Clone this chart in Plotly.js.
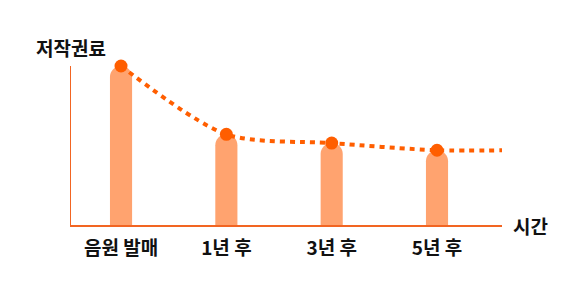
<!DOCTYPE html>
<html><head><meta charset="utf-8">
<script src="https://cdn.plot.ly/plotly-3.0.1.min.js"></script>
<style>html,body{margin:0;padding:0;background:#fff}#c{width:579px;height:296px}</style>
</head><body><div id="c"></div>
<script>
const categories = ['음원 발매', '1년 후', '3년 후', '5년 후'];
const royalties = [100, 57, 51.5, 47];
const tailValue = 47;
const yTitle = '저작권료';
const xTitle = '시간';

const idx = categories.map((c, i) => i);
const xMax = 3.617;
const font = 'Noto Sans CJK KR, Noto Sans, sans-serif';

const data = [
  {type: 'bar', x: idx, y: royalties, width: 0.21,
   marker: {color: '#FFA36F'}, hoverinfo: 'skip'},
  {type: 'scatter', mode: 'lines', x: idx.concat([xMax]), y: royalties.concat([tailValue]),
   line: {color: '#FF5E00', width: 4, dash: '5px,5px', shape: 'spline', smoothing: 0.8},
   hoverinfo: 'skip'},
  {type: 'scatter', mode: 'markers', x: idx, y: royalties,
   marker: {color: '#FF5E00', size: 13}, cliponaxis: false, hoverinfo: 'skip'}
];
const layout = {
  width: 579, height: 296,
  margin: {l: 71, r: 77, t: 66, b: 71},
  paper_bgcolor: '#fff', plot_bgcolor: '#fff',
  showlegend: false,
  barcornerradius: 11,
  xaxis: {range: [-0.475, xMax], tickvals: idx, ticktext: categories,
    showgrid: false, zeroline: false, showline: true, linecolor: '#F26522', linewidth: 1.5,
    ticks: '', ticklen: 0, ticklabelstandoff: 6,
    tickfont: {family: font, size: 19, color: '#111', weight: 'bold'},
    fixedrange: true},
  yaxis: {range: [0, 100], showgrid: false, zeroline: false, showline: true,
    linecolor: '#F26522', linewidth: 1.5, showticklabels: false, ticks: '', fixedrange: true},
  annotations: [
    {text: '<b>' + yTitle + '</b>', xref: 'paper', yref: 'paper', x: 0, y: 1.0, yshift: 19,
     xanchor: 'center', yanchor: 'middle', showarrow: false,
     font: {family: font, size: 19, color: '#111'}},
    {text: '<b>' + xTitle + '</b>', xref: 'paper', yref: 'paper', x: 1.0, y: 0, xshift: 9,
     xanchor: 'left', yanchor: 'middle', showarrow: false,
     font: {family: font, size: 19, color: '#111'}}
  ]
};
Plotly.newPlot('c', data, layout, {displayModeBar: false, staticPlot: true});
</script></body></html>
